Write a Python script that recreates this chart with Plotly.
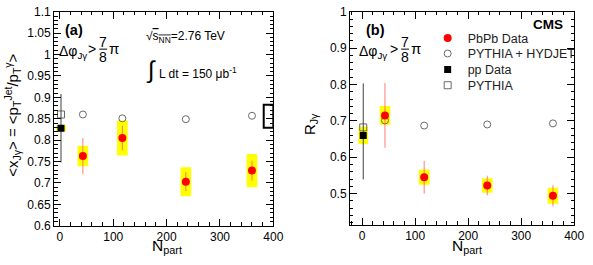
import plotly.graph_objects as go

W, H = 593, 265

# ---------------- data ----------------
npart = [43, 117, 236, 360]
pp_x = [2]

# panel (a): <x_Jgamma>
xjg_pbpb = [0.763, 0.805, 0.703, 0.729]
xjg_pbpb_stat = [0.042, 0.029, 0.022, 0.023]
xjg_pbpb_syst = [0.024, 0.041, 0.034, 0.039]
xjg_hydjet = [0.860, 0.851, 0.849, 0.857]
xjg_pp = [0.828]
xjg_pp_stat = [0.080]
xjg_pp_syst = [0.007]
xjg_pythia = [0.860]
xjg_pp_norm = [0.856]
xjg_pp_norm_err = [0.027]

# panel (b): R_Jgamma
rjg_pbpb = [0.715, 0.545, 0.522, 0.494]
rjg_pbpb_stat = [0.089, 0.045, 0.027, 0.029]
rjg_pbpb_syst = [0.026, 0.021, 0.020, 0.022]
rjg_hydjet = [0.701, 0.687, 0.690, 0.693]
rjg_pp = [0.660]
rjg_pp_stat_up = [0.143]
rjg_pp_stat_dn = [0.121]
rjg_pp_syst = [0.024]
rjg_pythia = [0.682]

x_ticks = [0, 100, 200, 300, 400]
ya_ticks = [0.6, 0.65, 0.7, 0.75, 0.8, 0.85, 0.9, 0.95, 1.0, 1.05, 1.1]
ya_labels = ["0.6", "0.65", "0.7", "0.75", "0.8", "0.85", "0.9", "0.95", "1", "1.05", "1.1"]
yb_ticks = [0.5, 0.6, 0.7, 0.8, 0.9, 1.0]
yb_labels = ["0.5", "0.6", "0.7", "0.8", "0.9", "1"]

# ---------------- helpers ----------------
def px(x):
    return x / W

def py(y):
    return 1 - y / H

FONT = "Liberation Sans, Arial, sans-serif"
YELLOW = "#ffff00"
ERR_RED = "rgba(255,90,90,0.8)"
GRAY = "#6a6a6a"

fig = go.Figure()

def add_panel(xa, ya, pbpb, stat, syst, hyd, pp, pp_up, pp_dn, pp_syst, pyth, legend):
    fig.add_trace(go.Bar(x=npart, y=[2 * s for s in syst], base=[v - s for v, s in zip(pbpb, syst)],
                         width=20, marker=dict(color=YELLOW, line=dict(width=0)),
                         xaxis=xa, yaxis=ya, showlegend=False, hoverinfo="skip"))
    fig.add_trace(go.Bar(x=pp_x, y=[2 * s for s in pp_syst], base=[v - s for v, s in zip(pp, pp_syst)],
                         width=18, marker=dict(color=YELLOW, line=dict(width=0)),
                         xaxis=xa, yaxis=ya, showlegend=False, hoverinfo="skip"))
    fig.add_trace(go.Scatter(x=npart, y=hyd, mode="markers", name="PYTHIA + HYDJET",
                             marker=dict(symbol="circle-open", size=7, color=GRAY, line=dict(width=1)),
                             xaxis=xa, yaxis=ya, showlegend=legend, legend="legend2"))
    fig.add_trace(go.Scatter(x=pp_x, y=pyth, mode="markers", name="PYTHIA",
                             marker=dict(symbol="square-open", size=7, color=GRAY, line=dict(width=1)),
                             xaxis=xa, yaxis=ya, showlegend=legend, legend="legend4"))
    fig.add_trace(go.Scatter(x=pp_x, y=pp, mode="markers", name="pp Data",
                             error_y=dict(type="data", symmetric=False, array=pp_up, arrayminus=pp_dn,
                                          color="#404040", thickness=1, width=0),
                             marker=dict(symbol="square", size=7, color="black"),
                             xaxis=xa, yaxis=ya, showlegend=legend, legend="legend3"))
    fig.add_trace(go.Scatter(x=npart, y=pbpb, mode="markers", name="PbPb Data",
                             error_y=dict(type="data", array=stat, color=ERR_RED, thickness=1, width=0),
                             marker=dict(symbol="circle", size=8, color="red"),
                             xaxis=xa, yaxis=ya, showlegend=legend, legend="legend"))

add_panel("x", "y", xjg_pbpb, xjg_pbpb_stat, xjg_pbpb_syst, xjg_hydjet, xjg_pp,
          xjg_pp_stat, xjg_pp_stat, xjg_pp_syst, xjg_pythia, False)
add_panel("x2", "y2", rjg_pbpb, rjg_pbpb_stat, rjg_pbpb_syst, rjg_hydjet, rjg_pp,
          rjg_pp_stat_up, rjg_pp_stat_dn, rjg_pp_syst, rjg_pythia, True)

# pp normalisation uncertainty box (panel a)
for c, e in zip(xjg_pp_norm, xjg_pp_norm_err):
    fig.add_shape(type="rect", xref="x", yref="y", x0=382, x1=400, y0=c - e, y1=c + e,
                  line=dict(color="black", width=2), fillcolor="rgba(0,0,0,0)")

axis_common = dict(showgrid=False, zeroline=False, showline=True, linecolor="black", linewidth=1,
                   mirror="allticks", ticks="inside", ticklen=7, tickwidth=1, tickcolor="black",
                   ticklabeloverflow="allow",
                   tickfont=dict(family=FONT, size=12, color="black"))

def leg(y):
    return dict(x=px(435), y=py(y), xanchor="left", yanchor="middle", bgcolor="rgba(0,0,0,0)",
                font=dict(family=FONT, size=12.5, color="#222"), itemwidth=30)

fig.update_layout(
    width=W, height=H, margin=dict(l=0, r=0, t=0, b=0),
    paper_bgcolor="white", plot_bgcolor="white", barmode="overlay",
    font=dict(family=FONT, color="black"),
    xaxis=dict(domain=[px(55), px(278)], range=[-11, 400], tickvals=x_ticks, anchor="y",
               minor=dict(dtick=20, tick0=0, ticks="inside", ticklen=3.5, tickcolor="black"), **axis_common),
    yaxis=dict(domain=[py(231), py(5)], range=[0.6, 1.1], tickvals=ya_ticks, ticktext=ya_labels, anchor="x",
               minor=dict(dtick=0.01, tick0=0.6, ticks="inside", ticklen=3.5, tickcolor="black"), **axis_common),
    xaxis2=dict(domain=[px(356), px(584)], range=[-23, 400], tickvals=x_ticks, anchor="y2",
                minor=dict(dtick=20, tick0=0, ticks="inside", ticklen=3.5, tickcolor="black"), **axis_common),
    yaxis2=dict(domain=[py(230), py(5)], range=[0.414, 1.0], tickvals=yb_ticks, ticktext=yb_labels, anchor="x2",
                minor=dict(dtick=0.02, tick0=0.4, ticks="inside", ticklen=3.5, tickcolor="black"), **axis_common),
    legend=leg(33), legend2=leg(49.5), legend3=leg(66.5), legend4=leg(83),
)

def ann(text, x, y, size=12, xanchor="left", yanchor="middle", angle=0, bold=False):
    fig.add_annotation(text=f"<b>{text}</b>" if bold else text, x=px(x), y=py(y), xref="paper", yref="paper",
                       showarrow=False, xanchor=xanchor, yanchor=yanchor, textangle=angle,
                       font=dict(family=FONT, size=size, color="black"))

# panel labels
ann("(a)", 64, 24, size=14.5, bold=True)
ann("(b)", 370, 24, size=14.5, bold=True)
ann("CMS", 575, 19, size=13.5, bold=True, xanchor="right")

# delta phi cuts
for x0, s in ((58, 0), (363, 2)):
    ann("Δφ<sub>Jγ</sub>", x0, 48, size=14)
    ann(">", x0 + 36 + s, 44, size=14, xanchor="center")
    ann("7", x0 + 47 + s, 37, size=14, xanchor="center")
    ann("8", x0 + 47 + s, 52.5, size=14, xanchor="center")
    ann("π", x0 + 51 + s, 44, size=15)
    fig.add_shape(type="line", xref="paper", yref="paper", x0=px(x0 + 43 + s), x1=px(x0 + 51 + s),
                  y0=py(44.5), y1=py(44.5), line=dict(color="black", width=1))

# energy and lumi
ann("√<span style='text-decoration:overline'>s<sub>NN</sub></span>=2.76 TeV", 146, 32, size=12)
ann("∫", 146, 67, size=24)
ann("L dt = 150 μb<sup>-1</sup>", 160, 70, size=12)

# axis titles
ann("&lt;x<sub>Jγ</sub>&gt; = &lt;p<sub>T</sub><sup>Jet</sup>/p<sub>T</sub><sup>γ</sup>&gt;", 13, 114, size=15,
    xanchor="center", angle=-90)
ann("R<sub>Jγ</sub>", 316, 124, size=15, xanchor="center", angle=-90)
ann("N<sub>part</sub>", 170, 265, size=15.5, xanchor="center", yanchor="bottom")
ann("N<sub>part</sub>", 475, 265, size=15.5, xanchor="center", yanchor="bottom")

fig.write_html("out.html", config={"displayModeBar": False},
               post_script="document.body.style.margin='0px';")
